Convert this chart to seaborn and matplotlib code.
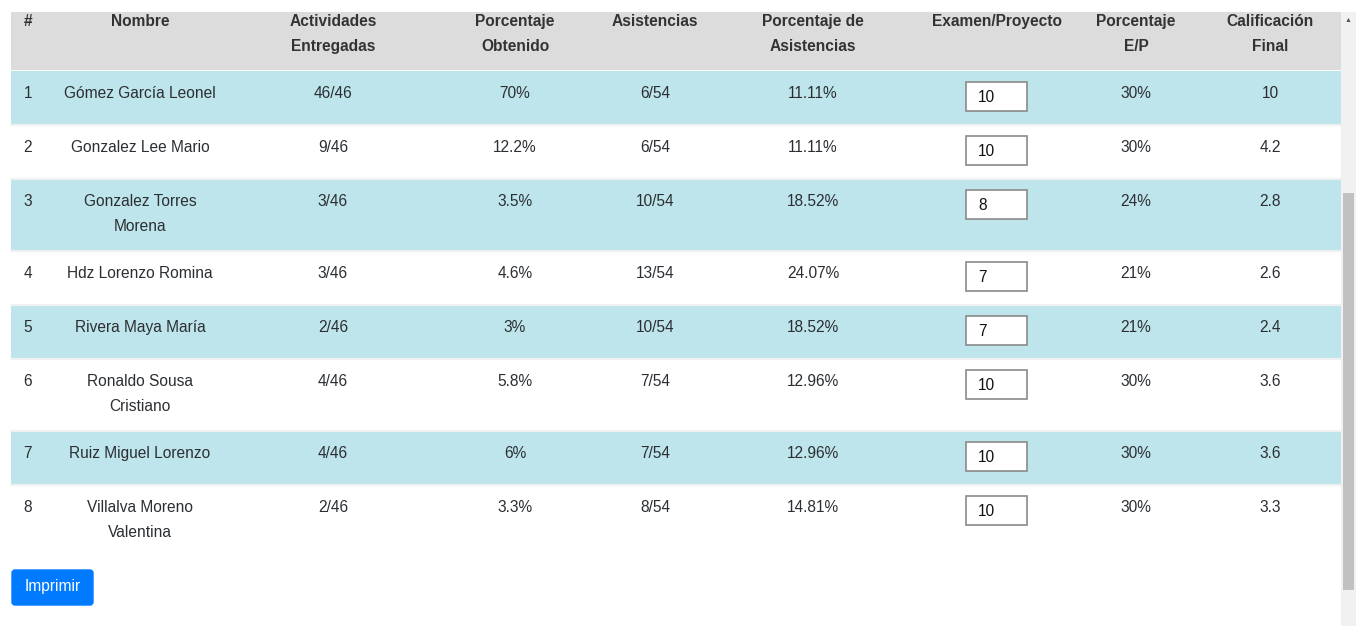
import matplotlib
matplotlib.use("Agg")
import matplotlib.pyplot as plt
from matplotlib.patches import Rectangle, FancyBboxPatch
import seaborn as sns

# table contents
headers = ["#", "Nombre", "Actividades\nEntregadas", "Porcentaje\nObtenido", "Asistencias",
           "Porcentaje de\nAsistencias", "Examen/Proyecto", "Porcentaje\nE/P", "Calificación\nFinal"]
numero = ["1", "2", "3", "4", "5", "6", "7", "8"]
nombres = ["Gómez García Leonel", "Gonzalez Lee Mario", "Gonzalez Torres\nMorena", "Hdz Lorenzo Romina",
           "Rivera Maya María", "Ronaldo Sousa\nCristiano", "Ruiz Miguel Lorenzo", "Villalva Moreno\nValentina"]
actividades = ["46/46", "9/46", "3/46", "3/46", "2/46", "4/46", "4/46", "2/46"]
pct_obtenido = ["70%", "12.2%", "3.5%", "4.6%", "3%", "5.8%", "6%", "3.3%"]
asistencias = ["6/54", "6/54", "10/54", "13/54", "10/54", "7/54", "7/54", "8/54"]
pct_asistencias = ["11.11%", "11.11%", "18.52%", "24.07%", "18.52%", "12.96%", "12.96%", "14.81%"]
examen = ["10", "10", "8", "7", "7", "10", "10", "10"]
pct_ep = ["30%", "30%", "24%", "21%", "21%", "30%", "30%", "30%"]
calificacion = ["10", "4.2", "2.8", "2.6", "2.4", "3.6", "3.6", "3.3"]

sns.set_theme(style="white")
plt.rcParams['font.family'] = ['Liberation Sans', 'DejaVu Sans']

fig = plt.figure(figsize=(13.67, 6.36), dpi=100)
ax = fig.add_axes([0, 0, 1, 1])
ax.set_xlim(0, 1367)
ax.set_ylim(636, 0)
ax.axis("off")

left, right = 11, 1341
col_x = [28, 140, 333, 515, 655, 813, 997, 1136, 1270]
stripe = "#bee5eb"
text_col = "#2b2f33"
fs = 11.2

# header
ax.add_patch(Rectangle((left, 12), right - left, 58, color="#dcdcdc", lw=0))
for x, h in zip(col_x, headers):
    ax.text(x, 14, h, ha="center", va="top", fontsize=fs, fontweight="bold",
            color="#333333", linespacing=1.8)

columns = [numero, nombres, actividades, pct_obtenido, asistencias, pct_asistencias, None, pct_ep, calificacion]

y = 71
for i in range(len(nombres)):
    lines = nombres[i].count("\n") + 1
    h = 53 if lines == 1 else 71
    if i % 2 == 0:
        ax.add_patch(Rectangle((left, y), right - left, h, color=stripe, lw=0))
    if i < len(nombres) - 1:
        ax.plot([left, right], [y + h + 0.5, y + h + 0.5], color="#eef0f1", lw=1.5)
    for j, col in enumerate(columns):
        if col is None:
            continue
        ax.text(col_x[j], y + 15, col[i], ha="center", va="top", fontsize=fs,
                color=text_col, linespacing=1.8)
    # input box
    ax.add_patch(Rectangle((966, y + 11), 61, 29, facecolor="white", edgecolor="#8a8a8a", lw=1.2))
    ax.text(978, y + 26, examen[i], ha="left", va="center", fontsize=fs, color="#111111")
    y += h + 1

# button
ax.add_patch(FancyBboxPatch((12, 570), 81, 35, boxstyle="round,pad=0,rounding_size=3",
                            facecolor="#007bff", edgecolor="#007bff", lw=1))
ax.text(53, 587, "Imprimir", ha="center", va="center", fontsize=fs, color="white")

# scrollbar
ax.add_patch(Rectangle((1341, 12), 15, 614, color="#f1f1f1", lw=0))
ax.add_patch(Rectangle((1343, 193), 11, 397, color="#c1c1c1", lw=0))
ax.text(1348.5, 21, "▲", ha="center", va="center", fontsize=5, color="#505050")

fig.savefig("out.png", dpi=100)
